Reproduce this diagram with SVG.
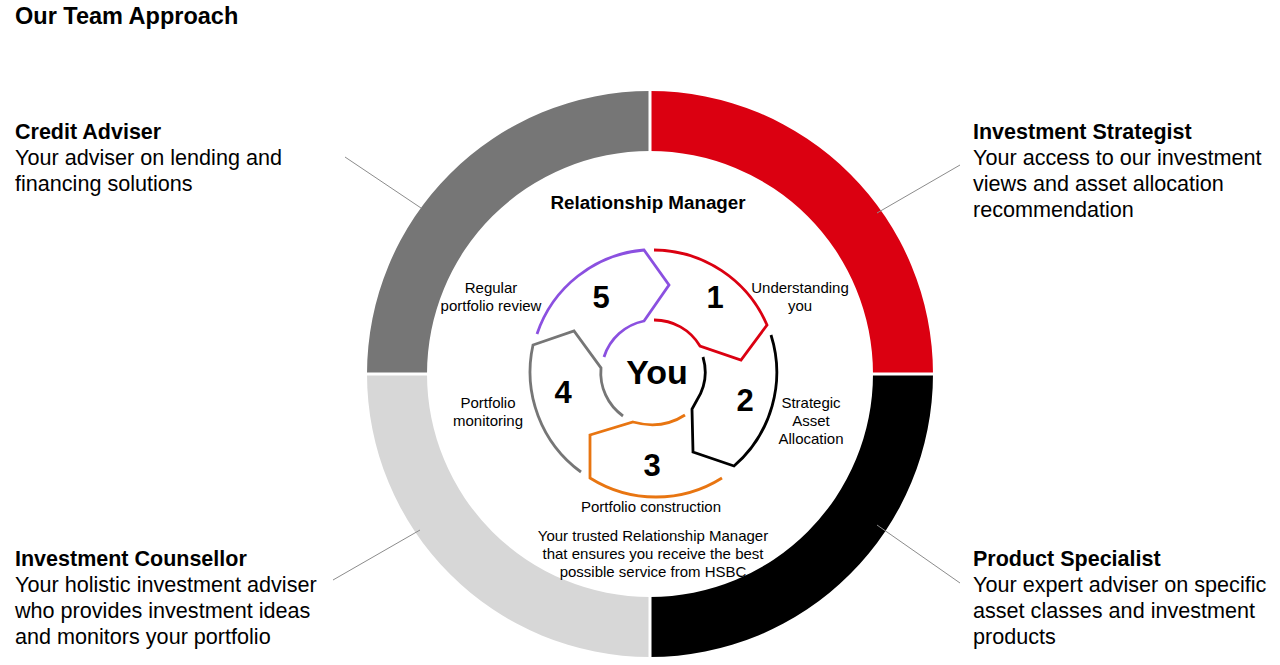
<svg xmlns="http://www.w3.org/2000/svg" width="1280" height="665" viewBox="0 0 1280 665">
<style>
text{font-family:"Liberation Sans",Arial,sans-serif;fill:#000}
.t{font-size:23.5px;font-weight:bold}
.h{font-size:21.5px;font-weight:bold}
.b{font-size:21.6px}
.s{font-size:15px;text-anchor:middle}
.n{font-size:31px;font-weight:bold;text-anchor:middle}
.seg{fill:none;stroke-width:2.8;stroke-linejoin:miter}
.lead{stroke:#8c8c8c;stroke-width:1}
</style>
<rect width="1280" height="665" fill="#fff"/>
<text class="t" x="15" y="24">Our Team Approach</text>
<g id="ring">
<path d="M650 91 A283 283 0 0 1 933 374 L873 374 A223 223 0 0 0 650 151 Z" fill="#db0011"/>
<path d="M933 374 A283 283 0 0 1 650 657 L650 597 A223 223 0 0 0 873 374 Z" fill="#000"/>
<path d="M650 657 A283 283 0 0 1 367 374 L427 374 A223 223 0 0 0 650 597 Z" fill="#d7d7d7"/>
<path d="M367 374 A283 283 0 0 1 650 91 L650 151 A223 223 0 0 0 427 374 Z" fill="#767676"/>
<line x1="650" y1="88" x2="650" y2="660" stroke="#fff" stroke-width="3"/>
<line x1="364" y1="374" x2="936" y2="374" stroke="#fff" stroke-width="3"/>
</g>
<g id="connectors">
<line class="lead" x1="345" y1="157" x2="421" y2="208"/>
<line class="lead" x1="960" y1="165" x2="877" y2="213"/>
<line class="lead" x1="333" y1="580" x2="420" y2="530"/>
<line class="lead" x1="960" y1="583" x2="877" y2="525"/>
</g>
<g id="credit"><text class="h" x="15" y="139">Credit Adviser</text><text class="b" x="15" y="165">Your adviser on lending and</text><text class="b" x="15" y="191">financing solutions</text></g>
<g id="strategist"><text class="h" x="973" y="139">Investment Strategist</text><text class="b" x="973" y="165">Your access to our investment</text><text class="b" x="973" y="191">views and asset allocation</text><text class="b" x="973" y="217">recommendation</text></g>
<g id="counsellor"><text class="h" x="15" y="566">Investment Counsellor</text><text class="b" x="15" y="592">Your holistic investment adviser</text><text class="b" x="15" y="618">who provides investment ideas</text><text class="b" x="15" y="644">and monitors your portfolio</text></g>
<g id="specialist"><text class="h" x="973" y="566">Product Specialist</text><text class="b" x="973" y="592">Your expert adviser on specific</text><text class="b" x="973" y="618">asset classes and investment</text><text class="b" x="973" y="644">products</text></g>
<g id="rm"><text x="648" y="209" style="font-size:18.8px;font-weight:bold;text-anchor:middle">Relationship Manager</text>
<text class="s" x="653" y="541">Your trusted Relationship Manager</text><text class="s" x="653" y="559">that ensures you receive the best</text><text class="s" x="653" y="577">possible service from HSBC</text></g>
<g id="step1"><path class="seg" stroke="#db0011" d="M654 250 A124 124 0 0 1 767 325 L741 360 L700 346 A53 53 0 0 0 654 320"/><text class="n" x="715" y="308">1</text><text class="s" x="800" y="293">Understanding</text><text class="s" x="800" y="311">you</text></g>
<g id="step2"><path class="seg" stroke="#000" d="M771 335 A124 124 0 0 1 734 466 L693 452 L692 409 L697 400 A53 53 0 0 0 703 357"/><text class="n" x="745" y="411">2</text><text class="s" x="811" y="408">Strategic</text><text class="s" x="811" y="426">Asset</text><text class="s" x="811" y="444">Allocation</text></g>
<g id="step3"><path class="seg" stroke="#e87511" d="M685 415 Q662 430 633 422 L590 435 L590 478 A124 124 0 0 0 722 478"/><text class="n" x="652" y="476">3</text><text class="s" x="651" y="512">Portfolio construction</text></g>
<g id="step4"><path class="seg" stroke="#767676" d="M581 472 A124 124 0 0 1 533 345 L574 331 L601 368 A53 53 0 0 0 623 416"/><text class="n" x="563" y="403">4</text><text class="s" x="488" y="408">Portfolio</text><text class="s" x="488" y="426">monitoring</text></g>
<g id="step5"><path class="seg" stroke="#8b50e0" d="M537 334 A124 124 0 0 1 644 250 L669 285 L644 321 A53 53 0 0 0 604 357"/><text class="n" x="601" y="308">5</text><text class="s" x="491" y="293">Regular</text><text class="s" x="491" y="311">portfolio review</text></g>
<g id="you"><text x="657" y="384" style="font-size:34px;font-weight:bold;text-anchor:middle">You</text></g>
</svg>
